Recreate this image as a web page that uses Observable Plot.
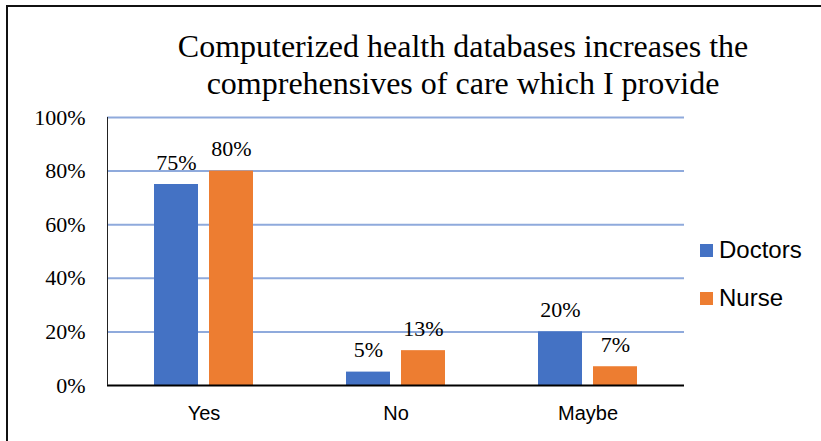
<!DOCTYPE html>
<html>
<head>
<meta charset="utf-8">
<script src="https://cdn.jsdelivr.net/npm/d3@7"></script>
<script src="https://cdn.jsdelivr.net/npm/@observablehq/plot@0.6"></script>
<style>
  html, body { margin: 0; padding: 0; background: #fff; }
  #chart { position: relative; width: 821px; height: 441px; overflow: hidden; background: #fff; }
  #frame { position: absolute; left: 6px; top: 5px; width: 830px; height: 450px;
           border-top: 2px solid #111; border-left: 2px solid #111; }
  #title { position: absolute; left: 63px; width: 800px; top: 28px; text-align: center;
           font-family: "Liberation Serif", "Times New Roman", serif; font-size: 32px; line-height: 37px; color: #000; }
  #plot { position: absolute; left: 0; top: 100px; }
  #legend { position: absolute; left: 700px; top: 236px; font-family: "Liberation Sans", Arial, sans-serif;
            font-size: 24px; color: #000; }
  .item { display: flex; align-items: center; height: 28px; margin-bottom: 20px; }
  .sw { width: 13px; height: 13px; margin-right: 6px; }
</style>
</head>
<body>
<div id="chart">
  <div id="frame"></div>
  <div id="title"></div>
  <div id="plot"></div>
  <div id="legend"></div>
</div>
<script>
// Survey answers, share of respondents per group
const titleLines = ["Computerized health databases increases the", "comprehensives of care which I provide"];
const categories = ["Yes", "No", "Maybe"];
const doctors = [0.75, 0.05, 0.20];
const nurse = [0.80, 0.13, 0.07];
const seriesNames = ["Doctors", "Nurse"];
const seriesColors = ["#4472c4", "#ed7d31"];
const yTicks = [0, 0.2, 0.4, 0.6, 0.8, 1.0];

const pct = d3.format(".0%");
const SERIF = "'Liberation Serif', 'Times New Roman', serif";
const SANS = "'Liberation Sans', Arial, sans-serif";

document.getElementById("title").innerHTML = titleLines.join("<br>");

const doctorRows = categories.map((c, i) => ({category: c, value: doctors[i]}));
const nurseRows = categories.map((c, i) => ({category: c, value: nurse[i]}));

const numText = {fontSize: 22, fill: "#000", fontFamily: SERIF};

const plot = Plot.plot({
  width: 821,
  height: 341,
  marginTop: 17,
  marginBottom: 56,
  marginLeft: 107,
  marginRight: 137,
  x: {domain: categories, paddingInner: 0.485, paddingOuter: 0.2425, axis: null},
  y: {domain: [0, 1], axis: null},
  marks: [
    Plot.ruleY(yTicks.slice(1), {stroke: "#8faadc", strokeWidth: 2}),
    Plot.barY(doctorRows, {x: "category", y: "value", fill: seriesColors[0], insetRight: 55}),
    Plot.barY(nurseRows, {x: "category", y: "value", fill: seriesColors[1], insetLeft: 55}),
    Plot.ruleY([0], {stroke: "#000", strokeWidth: 2}),
    Plot.text(doctorRows, {x: "category", y: "value", text: d => pct(d.value), dx: -27.5, dy: -15,
      lineAnchor: "bottom", ...numText}),
    Plot.text(nurseRows, {x: "category", y: "value", text: d => pct(d.value), dx: 27.5, dy: -15,
      lineAnchor: "bottom", ...numText}),
    Plot.text(yTicks, {y: d => d, text: d => pct(d), frameAnchor: "left", textAnchor: "end", dx: -22,
      lineAnchor: "middle", ...numText}),
    Plot.text(categories, {x: d => d, y: () => 0, dy: 28, lineAnchor: "middle",
      fontSize: 20, fill: "#000", fontFamily: SANS})
  ]
});

// numbers in a serif face, category names in a sans face
d3.select(plot).selectAll("text").each(function () {
  const t = d3.select(this);
  const isCategory = categories.includes(t.text().trim());
  t.style("font-family", isCategory ? SANS : SERIF);
});

// vertical value axis line on the left edge of the plot area
const y = plot.scale("y");
d3.select(plot).append("line")
  .attr("x1", 107.5).attr("x2", 107.5)
  .attr("y1", y.apply(1)).attr("y2", y.apply(0))
  .attr("stroke", "#222").attr("stroke-width", 1);

document.getElementById("plot").appendChild(plot);

// legend
const legend = d3.select("#legend");
seriesNames.forEach((name, i) => {
  const item = legend.append("div").attr("class", "item");
  item.append("div").attr("class", "sw").style("background", seriesColors[i]);
  item.append("span").text(name);
});
</script>
</body>
</html>
